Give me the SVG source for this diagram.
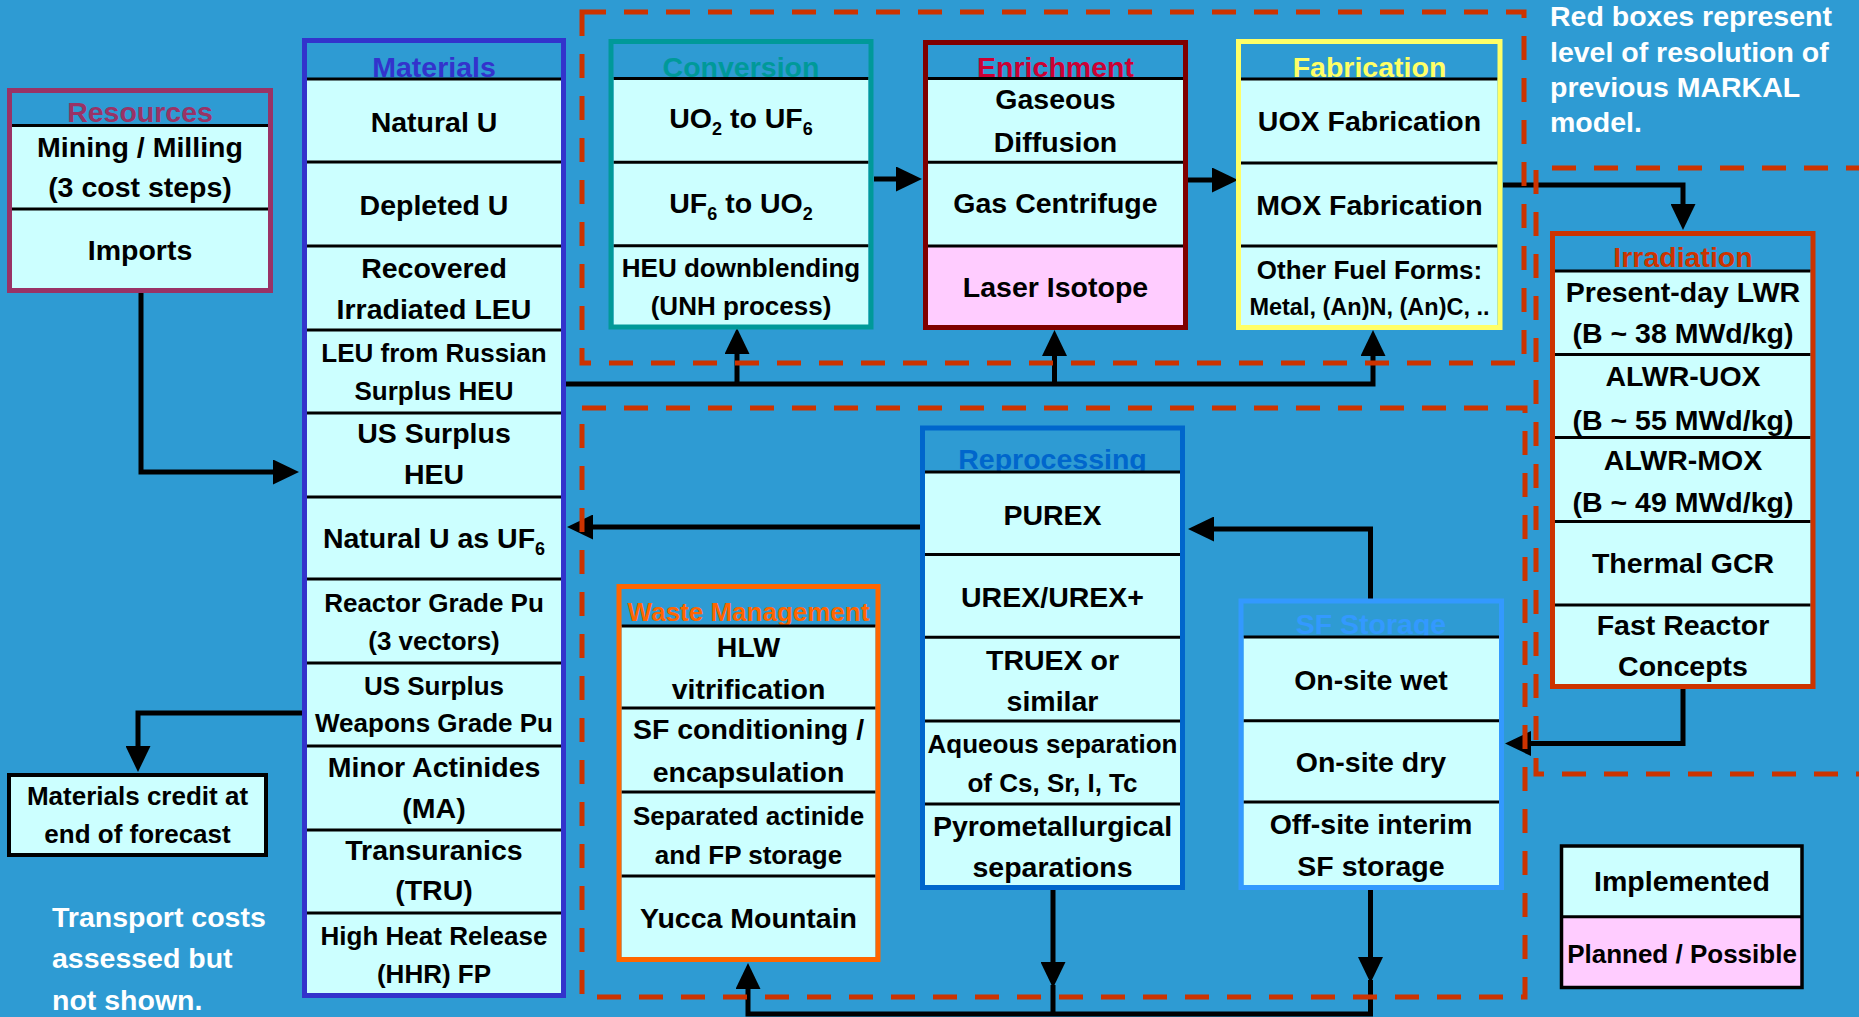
<svg xmlns="http://www.w3.org/2000/svg" width="1859" height="1017" viewBox="0 0 1859 1017">
<style>
text{font-family:"Liberation Sans",Arial,Helvetica,sans-serif;font-weight:bold;font-size:28.5px;text-anchor:middle;fill:#000}
.s{font-size:26px}
.m{font-size:23.5px}
.note{fill:#fff;text-anchor:start}
.cell{fill:#CCFFFF}
.pink{fill:#FFCCFF}
.sep{stroke:#000;stroke-width:3}
.bd{fill:none;stroke-width:5}
.wire{fill:none;stroke:#000;stroke-width:5;stroke-linejoin:miter}
.dash{fill:none;stroke:#CC3300;stroke-width:5;stroke-dasharray:24 18}
</style>
<defs>
<marker id="ah" markerUnits="userSpaceOnUse" markerWidth="26" markerHeight="25" viewBox="0 0 26 25" refX="16" refY="12.5" orient="auto"><path d="M0,0 L26,12.5 L0,25 Z" fill="#000"/></marker>
</defs>
<rect x="0" y="0" width="1859" height="1017" fill="#2E9BD3"/>

<g id="connectors">
<path class="wire" d="M141,293 V472 H289" marker-end="url(#ah)"/>
<path class="wire" d="M302,713 H138 V762" marker-end="url(#ah)"/>
<path class="wire" d="M566,384 H1373 V340" marker-end="url(#ah)"/>
<path class="wire" d="M737,384 V338" marker-end="url(#ah)"/>
<path class="wire" d="M1054.5,384 V340" marker-end="url(#ah)"/>
<path class="wire" d="M874,179 H912" marker-end="url(#ah)"/>
<path class="wire" d="M1188,180 H1228" marker-end="url(#ah)"/>
<path class="wire" d="M1503,185 H1683 V220" marker-end="url(#ah)"/>
<path class="wire" d="M1683,689 V743.5 H1515" marker-end="url(#ah)"/>
<path class="wire" d="M1370.5,599 V529 H1198" marker-end="url(#ah)"/>
<path class="wire" d="M920,527 H577" marker-end="url(#ah)"/>
<path class="wire" d="M1053,890 V978" marker-end="url(#ah)"/>
<path class="wire" d="M1053,985 V1016"/>
<path class="wire" d="M1370.5,890 V973" marker-end="url(#ah)"/>
<path class="wire" d="M1370.5,980 V1014 H748 V973" marker-end="url(#ah)"/>
</g>

<g id="resolution-boxes">
<rect class="dash" x="582" y="12" width="942" height="351"/>
<rect class="dash" x="582" y="408" width="943" height="589"/>
<path class="dash" d="M1870,168 H1536 V774 H1870"/>
</g>

<g id="resources">
<text x="140" y="122" fill="#993366" style="fill:#993366">Resources</text>
<rect class="cell" x="12" y="125" width="258" height="166"/>
<line class="sep" x1="12" y1="125.5" x2="270" y2="125.5"/>
<line class="sep" x1="12" y1="209" x2="270" y2="209"/>
<rect class="bd" x="9.5" y="90.5" width="261" height="200" stroke="#993366"/>
<text x="140" y="157">Mining / Milling</text>
<text x="140" y="197">(3 cost steps)</text>
<text x="140" y="260">Imports</text>
</g>

<g id="materials">
<text x="434" y="77" style="fill:#3333CC">Materials</text>
<rect class="cell" x="307" y="79" width="256.5" height="916.5"/>
<line class="sep" x1="307" y1="79" x2="563.5" y2="79"/>
<line class="sep" x1="307" y1="162" x2="563.5" y2="162"/>
<line class="sep" x1="307" y1="246" x2="563.5" y2="246"/>
<line class="sep" x1="307" y1="330" x2="563.5" y2="330"/>
<line class="sep" x1="307" y1="413" x2="563.5" y2="413"/>
<line class="sep" x1="307" y1="497" x2="563.5" y2="497"/>
<line class="sep" x1="307" y1="579" x2="563.5" y2="579"/>
<line class="sep" x1="307" y1="663" x2="563.5" y2="663"/>
<line class="sep" x1="307" y1="746" x2="563.5" y2="746"/>
<line class="sep" x1="307" y1="830" x2="563.5" y2="830"/>
<line class="sep" x1="307" y1="913" x2="563.5" y2="913"/>
<rect class="bd" x="304.5" y="40.5" width="259" height="955" stroke="#3333CC"/>
<text x="434" y="131.5">Natural U</text>
<text x="434" y="215">Depleted U</text>
<text x="434" y="278">Recovered</text>
<text x="434" y="319">Irradiated LEU</text>
<text class="s" x="434" y="362">LEU from Russian</text>
<text class="s" x="434" y="400">Surplus HEU</text>
<text x="434" y="443">US Surplus</text>
<text x="434" y="484">HEU</text>
<text x="434" y="548">Natural U as UF<tspan font-size="18" dy="7">6</tspan></text>
<text class="s" x="434" y="612">Reactor Grade Pu</text>
<text class="s" x="434" y="650">(3 vectors)</text>
<text class="s" x="434" y="695">US Surplus</text>
<text class="s" x="434" y="732">Weapons Grade Pu</text>
<text x="434" y="777">Minor Actinides</text>
<text x="434" y="818">(MA)</text>
<text x="434" y="860">Transuranics</text>
<text x="434" y="900">(TRU)</text>
<text class="s" x="434" y="945">High Heat Release</text>
<text class="s" x="434" y="983">(HHR) FP</text>
</g>

<g id="conversion">
<text x="741" y="77" style="fill:#009999">Conversion</text>
<rect class="cell" x="613.5" y="78.5" width="255" height="248.5"/>
<line class="sep" x1="613.5" y1="78.5" x2="868.5" y2="78.5"/>
<line class="sep" x1="613.5" y1="162.3" x2="868.5" y2="162.3"/>
<line class="sep" x1="613.5" y1="245.7" x2="868.5" y2="245.7"/>
<rect class="bd" x="611" y="41.5" width="260" height="285.5" stroke="#009999"/>
<text x="741" y="128">UO<tspan font-size="18" dy="7">2</tspan><tspan dy="-7"> to UF</tspan><tspan font-size="18" dy="7">6</tspan></text>
<text x="741" y="213">UF<tspan font-size="18" dy="7">6</tspan><tspan dy="-7"> to UO</tspan><tspan font-size="18" dy="7">2</tspan></text>
<text class="s" x="741" y="277">HEU downblending</text>
<text class="s" x="741" y="315">(UNH process)</text>
</g>

<g id="enrichment">
<text x="1055.5" y="77" style="fill:#CC0033">Enrichment</text>
<rect class="cell" x="928" y="78.5" width="255" height="249"/>
<rect class="pink" x="928" y="246" width="255" height="81.5"/>
<line class="sep" x1="928" y1="78.5" x2="1183" y2="78.5"/>
<line class="sep" x1="928" y1="162.3" x2="1183" y2="162.3"/>
<line class="sep" x1="928" y1="246" x2="1183" y2="246"/>
<rect class="bd" x="925.5" y="42.5" width="260" height="285" stroke="#800000"/>
<text x="1055.5" y="109">Gaseous</text>
<text x="1055.5" y="152">Diffusion</text>
<text x="1055.5" y="213">Gas Centrifuge</text>
<text x="1055.5" y="297">Laser Isotope</text>
</g>

<g id="fabrication">
<text x="1369.5" y="77" style="fill:#FFFF66">Fabrication</text>
<rect class="cell" x="1241" y="79" width="256.5" height="248.5"/>
<line class="sep" x1="1241" y1="79" x2="1497.5" y2="79"/>
<line class="sep" x1="1241" y1="163" x2="1497.5" y2="163"/>
<line class="sep" x1="1241" y1="246" x2="1497.5" y2="246"/>
<rect class="bd" x="1238.5" y="41.5" width="261.5" height="286" stroke="#FFFF66"/>
<text x="1369.5" y="131">UOX Fabrication</text>
<text x="1369.5" y="215">MOX Fabrication</text>
<text class="s" x="1369.5" y="279">Other Fuel Forms:</text>
<text class="m" x="1369.5" y="315">Metal, (An)N, (An)C, ..</text>
</g>

<g id="irradiation">
<text x="1683" y="267" style="fill:#CC3300">Irradiation</text>
<rect class="cell" x="1555" y="271" width="255.5" height="415"/>
<line class="sep" x1="1555" y1="271" x2="1810.5" y2="271"/>
<line class="sep" x1="1555" y1="354.5" x2="1810.5" y2="354.5"/>
<line class="sep" x1="1555" y1="437.5" x2="1810.5" y2="437.5"/>
<line class="sep" x1="1555" y1="521.5" x2="1810.5" y2="521.5"/>
<line class="sep" x1="1555" y1="605" x2="1810.5" y2="605"/>
<rect class="bd" x="1552.5" y="233.5" width="260.5" height="453" stroke="#CC3300"/>
<text x="1683" y="301.5">Present-day LWR</text>
<text x="1683" y="343">(B ~ 38 MWd/kg)</text>
<text x="1683" y="386">ALWR-UOX</text>
<text x="1683" y="429.5">(B ~ 55 MWd/kg)</text>
<text x="1683" y="470">ALWR-MOX</text>
<text x="1683" y="512">(B ~ 49 MWd/kg)</text>
<text x="1683" y="573">Thermal GCR</text>
<text x="1683" y="635">Fast Reactor</text>
<text x="1683" y="676">Concepts</text>
</g>

<g id="reprocessing">
<text x="1052.5" y="469" style="fill:#0066CC">Reprocessing</text>
<rect class="cell" x="925" y="472" width="255" height="413"/>
<line class="sep" x1="925" y1="472" x2="1180" y2="472"/>
<line class="sep" x1="925" y1="554.6" x2="1180" y2="554.6"/>
<line class="sep" x1="925" y1="637.3" x2="1180" y2="637.3"/>
<line class="sep" x1="925" y1="721" x2="1180" y2="721"/>
<line class="sep" x1="925" y1="804" x2="1180" y2="804"/>
<rect class="bd" x="922.5" y="428" width="260" height="459.5" stroke="#0066CC"/>
<text x="1052.5" y="525">PUREX</text>
<text x="1052.5" y="606.5">UREX/UREX+</text>
<text x="1052.5" y="669.5">TRUEX or</text>
<text x="1052.5" y="711">similar</text>
<text class="s" x="1052.5" y="753">Aqueous separation</text>
<text class="s" x="1052.5" y="791.5">of Cs, Sr, I, Tc</text>
<text x="1052.5" y="836">Pyrometallurgical</text>
<text x="1052.5" y="877">separations</text>
</g>

<g id="waste-management">
<text class="s" x="748.5" y="621" style="fill:#FF6600">Waste Management</text>
<rect class="cell" x="621.5" y="626" width="254" height="331.5"/>
<line class="sep" x1="621.5" y1="626" x2="875.5" y2="626"/>
<line class="sep" x1="621.5" y1="708" x2="875.5" y2="708"/>
<line class="sep" x1="621.5" y1="792" x2="875.5" y2="792"/>
<line class="sep" x1="621.5" y1="876" x2="875.5" y2="876"/>
<rect class="bd" x="619" y="586.5" width="259" height="373" stroke="#FF6600"/>
<text x="748.5" y="656.5">HLW</text>
<text x="748.5" y="699">vitrification</text>
<text x="748.5" y="739">SF conditioning /</text>
<text x="748.5" y="781.5">encapsulation</text>
<text class="s" x="748.5" y="825">Separated actinide</text>
<text class="s" x="748.5" y="863.5">and FP storage</text>
<text x="748.5" y="928">Yucca Mountain</text>
</g>

<g id="sf-storage">
<text x="1371" y="634" style="fill:#3399FF">SF Storage</text>
<rect class="cell" x="1243.5" y="637" width="255.5" height="248"/>
<line class="sep" x1="1243.5" y1="637" x2="1499" y2="637"/>
<line class="sep" x1="1243.5" y1="720.7" x2="1499" y2="720.7"/>
<line class="sep" x1="1243.5" y1="802" x2="1499" y2="802"/>
<rect class="bd" x="1241" y="601" width="260.5" height="286.5" stroke="#3399FF"/>
<text x="1371" y="690">On-site wet</text>
<text x="1371" y="772">On-site dry</text>
<text x="1371" y="834">Off-site interim</text>
<text x="1371" y="876">SF storage</text>
</g>

<g id="materials-credit">
<rect x="9" y="775" width="257" height="80" fill="#CCFFFF" stroke="#000" stroke-width="4"/>
<text class="s" x="137.5" y="805">Materials credit at</text>
<text class="s" x="137.5" y="843">end of forecast</text>
</g>

<g id="legend">
<rect x="1561.5" y="846" width="240.5" height="70.7" fill="#CCFFFF"/>
<rect x="1561.5" y="916.7" width="240.5" height="70.8" fill="#FFCCFF"/>
<line class="sep" x1="1561.5" y1="916.7" x2="1802" y2="916.7"/>
<rect x="1561.5" y="846" width="240.5" height="141.5" fill="none" stroke="#000" stroke-width="3.5"/>
<text x="1682" y="891">Implemented</text>
<text class="s" x="1682" y="963">Planned / Possible</text>
</g>

<g id="notes">
<text class="note" x="1550" y="26">Red boxes represent</text>
<text class="note" x="1550" y="62">level of resolution of</text>
<text class="note" x="1550" y="97">previous MARKAL</text>
<text class="note" x="1550" y="132">model.</text>
<text class="note" x="52" y="927">Transport costs</text>
<text class="note" x="52" y="968">assessed but</text>
<text class="note" x="52" y="1010">not shown.</text>
</g>
</svg>
